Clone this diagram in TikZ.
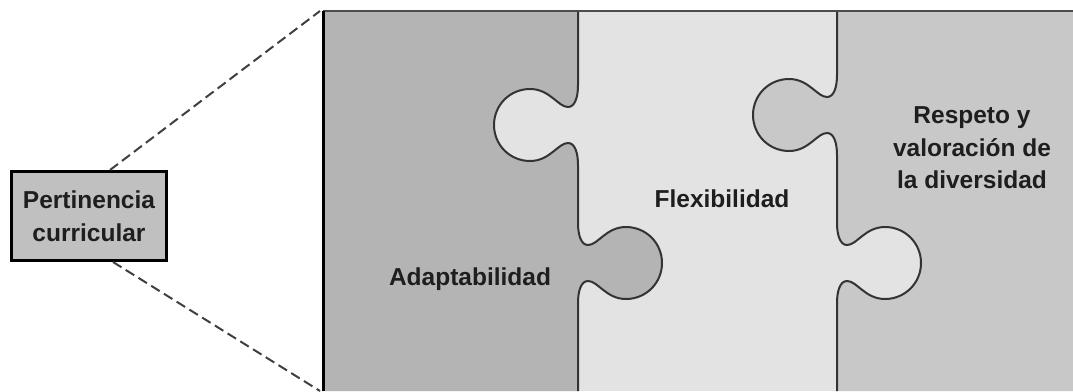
\documentclass[tikz,border=0pt]{standalone}
\usepackage{fontspec}
\setmainfont{Liberation Sans}
\usepackage{tikz}
\usetikzlibrary{positioning}
\definecolor{pieceLeft}{HTML}{B4B4B4}
\definecolor{pieceMid}{HTML}{E3E3E3}
\definecolor{pieceRight}{HTML}{C8C8C8}
\definecolor{boxGray}{HTML}{C0C0C0}
\definecolor{inkGray}{HTML}{1E1E1E}
\tikzset{label box/.style={draw=black,line width=3pt,fill=boxGray,align=center,
           inner sep=0pt,minimum width=155pt,minimum height=89pt,
           font=\bfseries\fontsize{24.5}{33}\selectfont,text=inkGray},
         piece text/.style={align=center,inner sep=0pt,
           font=\bfseries\fontsize{24.5}{32.5}\selectfont,text=inkGray},
         seam/.style={draw=black!80,line width=2pt},
         link/.style={draw=black!75,line width=2pt,dash pattern=on 10pt off 5pt}}
% one tab of the puzzle: seam x, tab centre y, side (-1 left, 1 right)
\newcommand{\pzknob}[3]{%
  -- ({#1},{#2-40})
  .. controls ({#1},{#2-28}) and ({#1+(#3)*3},{#2-18}) .. ({#1+(#3)*10},{#2-18})
  .. controls ({#1+(#3)*20},{#2-18}) and ({#1+(#3)*28},{#2-36}) .. ({#1+(#3)*48},{#2-36})
  .. controls ({#1+(#3)*68},{#2-36}) and ({#1+(#3)*84},{#2-20}) .. ({#1+(#3)*84},{#2})
  .. controls ({#1+(#3)*84},{#2+20}) and ({#1+(#3)*68},{#2+36}) .. ({#1+(#3)*48},{#2+36})
  .. controls ({#1+(#3)*28},{#2+36}) and ({#1+(#3)*20},{#2+18}) .. ({#1+(#3)*10},{#2+18})
  .. controls ({#1+(#3)*3},{#2+18}) and ({#1},{#2+28}) .. ({#1},{#2+40})}
% whole seam between two pieces
\newcommand{\pzseam}[3]{({#1},11) \pzknob{#1}{#2}{-1} \pzknob{#1}{#3}{1} -- ({#1},391)}

\begin{document}
\begin{tikzpicture}[x=1pt,y=-1pt]
  \useasboundingbox (0,0) rectangle (1073,391);

  % pieces
  \fill[pieceMid] (323,11) rectangle (1073,391);
  \fill[pieceLeft] (323,391) -- (323,11) -- \pzseam{578}{125}{263} -- cycle;
  \fill[pieceRight] (1073,11) -- \pzseam{837}{115}{263} -- (1073,391) -- cycle;
  \draw[seam] \pzseam{578}{125}{263};
  \draw[seam] \pzseam{837}{115}{263};

  \coordinate (panelTL) at (323,11);
  \coordinate (panelTR) at (1073,11);
  \coordinate (panelBL) at (323,391);
  \draw[black!70,line width=2pt] (panelTL) -- (panelTR);
  \draw[black,line width=3pt] (panelTL) -- (panelBL);

  \node[piece text] (adapt) at (470,279) {Adaptabilidad};
  \node[piece text] (flex) at (722,199) {Flexibilidad};
  \node[piece text] (resp) at (972,148) {Respeto y\\valoración de\\la diversidad};

  \node[label box] (pert) at (89,216) {Pertinencia\\curricular};
  \draw[link] ([xshift=21pt]pert.north) -- ([xshift=-3pt]panelTL);
  \draw[link] ([xshift=24pt]pert.south) -- ([xshift=-3pt]panelBL);
\end{tikzpicture}
\end{document}
